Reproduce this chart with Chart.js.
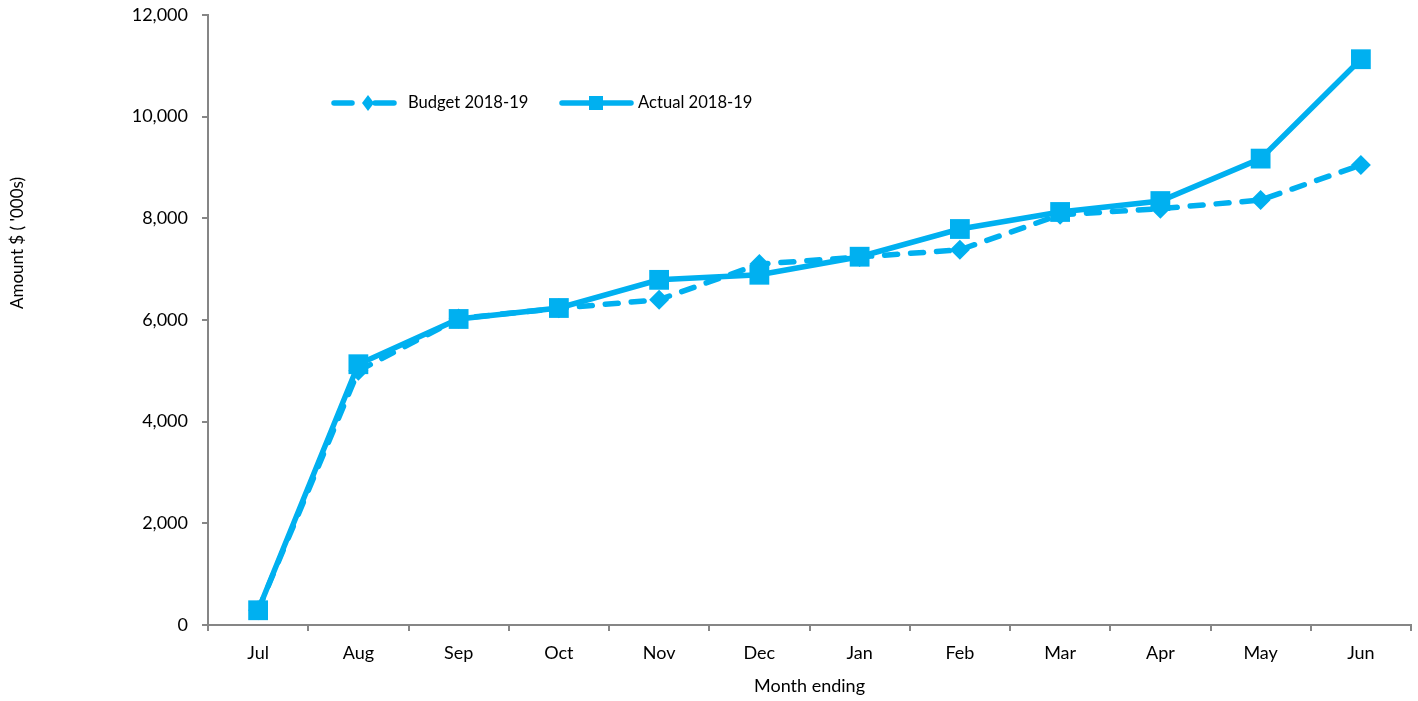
<!DOCTYPE html>
<html>
<head>
<meta charset="utf-8">
<script src="https://cdn.jsdelivr.net/npm/chart.js@4"></script>
<style>
  html, body { margin: 0; padding: 0; background: #fff; }
  #wrap { width: 1418px; height: 701px; position: relative; }
</style>
</head>
<body>
<div id="wrap"><canvas id="chart" width="1418" height="701"></canvas></div>
<script>
// ===== 데이터 =====
var MONTHS = ["Jul", "Aug", "Sep", "Oct", "Nov", "Dec", "Jan", "Feb", "Mar", "Apr", "May", "Jun"];
var BUDGET = [290, 5000, 6030, 6230, 6400, 7100, 7240, 7380, 8070, 8190, 8360, 9050];
var ACTUAL = [290, 5130, 6020, 6236, 6790, 6890, 7245, 7790, 8125, 8340, 9175, 11130];
var Y_TICKS = [0, 2000, 4000, 6000, 8000, 10000, 12000];

var BLUE = "#00B0F0";
var AXIS = "#868686";
var FONT = "Lato, 'Open Sans', sans-serif";

// 범례 + y축 제목 (플롯 안쪽에 그림)
var extras = {
  id: "extras",
  afterDraw: function (chart) {
    var ctx = chart.ctx;
    ctx.save();
    // y축 제목
    ctx.fillStyle = "#000";
    ctx.font = "17px " + FONT;
    ctx.textAlign = "center";
    ctx.textBaseline = "middle";
    ctx.translate(18, 243);
    ctx.rotate(-Math.PI / 2);
    ctx.fillText("Amount $ ( '000s)", 0, 0);
    ctx.restore();

    ctx.save();
    ctx.strokeStyle = BLUE;
    ctx.fillStyle = BLUE;
    ctx.lineWidth = 5.5;
    ctx.lineCap = "round";
    var ly = 103;
    // Budget 샘플: 점선 + 마름모
    ctx.beginPath(); ctx.moveTo(334, ly); ctx.lineTo(352, ly); ctx.stroke();
    ctx.beginPath(); ctx.moveTo(375, ly); ctx.lineTo(394, ly); ctx.stroke();
    ctx.beginPath();
    ctx.moveTo(368, ly - 8); ctx.lineTo(374, ly); ctx.lineTo(368, ly + 8); ctx.lineTo(362, ly);
    ctx.closePath(); ctx.fill();
    // Actual 샘플: 실선 + 사각형
    ctx.beginPath(); ctx.moveTo(562, ly); ctx.lineTo(631, ly); ctx.stroke();
    ctx.fillRect(589, ly - 7, 14, 14);
    // 텍스트
    ctx.fillStyle = "#000";
    ctx.font = "16.6px " + FONT;
    ctx.textAlign = "left";
    ctx.textBaseline = "middle";
    ctx.fillText("Budget 2018-19", 408, ly);
    ctx.fillText("Actual 2018-19", 638, ly);
    ctx.restore();
  }
};

new Chart(document.getElementById("chart"), {
  type: "line",
  data: {
    labels: MONTHS,
    datasets: [
      {
        label: "Budget 2018-19",
        data: BUDGET,
        borderColor: BLUE,
        backgroundColor: BLUE,
        borderWidth: 5.5,
        borderDash: [13, 13],
        borderCapStyle: "round",
        pointStyle: "rectRot",
        pointRadius: 10,
        pointBorderWidth: 0,
        pointBackgroundColor: BLUE,
        tension: 0,
        order: 2
      },
      {
        label: "Actual 2018-19",
        data: ACTUAL,
        borderColor: BLUE,
        backgroundColor: BLUE,
        borderWidth: 5.5,
        pointStyle: "rect",
        pointRadius: 14,
        pointBorderWidth: 0,
        pointBackgroundColor: BLUE,
        tension: 0,
        order: 1
      }
    ]
  },
  options: {
    responsive: false,
    animation: false,
    events: [],
    layout: { autoPadding: false, padding: { top: 15, right: 7, left: 0, bottom: 0 } },
    plugins: {
      legend: { display: false },
      tooltip: { enabled: false }
    },
    scales: {
      x: {
        type: "category",
        offset: true,
        grid: { offset: true, drawOnChartArea: false, drawTicks: true, tickLength: 6, color: AXIS, lineWidth: 2 },
        border: { color: AXIS, width: 2 },
        ticks: { color: "#000", font: { family: FONT, size: 18 }, padding: 11, maxRotation: 0 },
        title: { display: true, text: "Month ending", color: "#000", font: { family: FONT, size: 18 }, padding: { top: 6, bottom: 4 } },
        afterFit: function (s) { s.height = 76; s.paddingLeft = 0; s.paddingRight = 0; }
      },
      y: {
        min: 0,
        max: 12000,
        afterBuildTicks: function (s) { s.ticks = Y_TICKS.map(function (v) { return { value: v }; }); },
        grid: { drawOnChartArea: false, drawTicks: true, tickLength: 6, color: AXIS, lineWidth: 2 },
        border: { color: AXIS, width: 2 },
        ticks: {
          color: "#000",
          font: { family: FONT, size: 18 },
          padding: 14,
          callback: function (v) { return v.toLocaleString("en-US"); }
        },
        afterFit: function (s) { s.width = 208; s.paddingTop = 0; s.paddingBottom = 0; }
      }
    }
  },
  plugins: [extras]
});
</script>
</body>
</html>
